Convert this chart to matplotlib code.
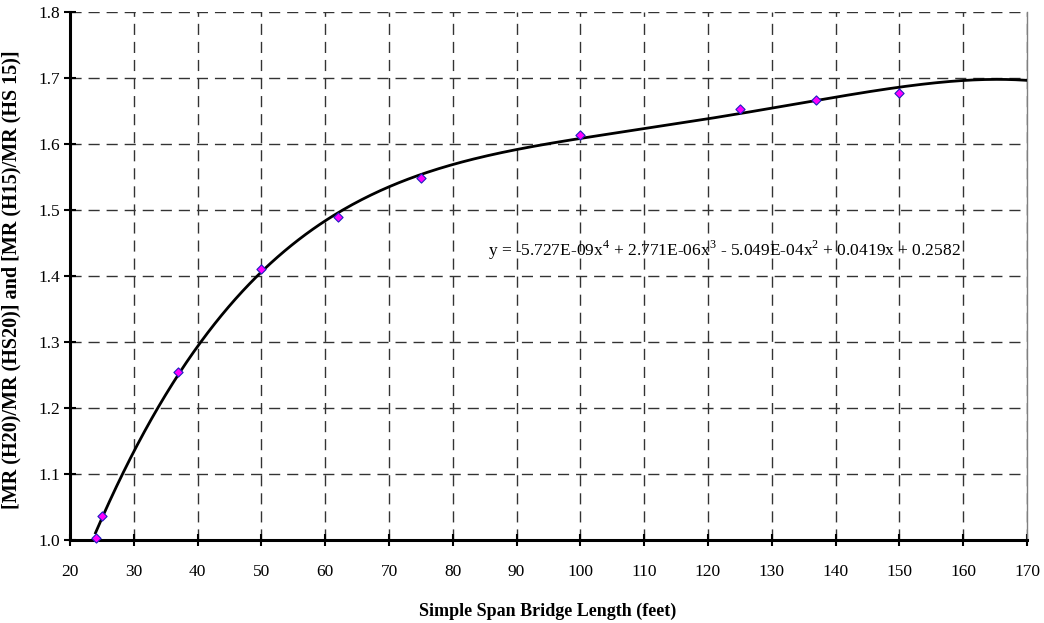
import numpy as np
import matplotlib.pyplot as plt

# span length (ft) vs. moment ratio
span_ft = [24, 25, 37, 50, 62, 75, 100, 125, 137, 150]
ratio = [1.003, 1.036, 1.255, 1.410, 1.490, 1.548, 1.614, 1.653, 1.667, 1.678]

# trendline values (extends to 170 ft)
trend_x = [24, 30, 40, 50, 62, 75, 80, 100, 110, 120, 130, 140, 150, 160, 170]
trend_y = [1.010, 1.134, 1.295, 1.406, 1.496, 1.554, 1.566, 1.609, 1.624,
           1.639, 1.655, 1.671, 1.685, 1.695, 1.6975]

x_ticks = list(range(20, 171, 10))
y_ticks = [1.0, 1.1, 1.2, 1.3, 1.4, 1.5, 1.6, 1.7, 1.8]
eq_label = (r"y = -5.727E-09x$^{4}$ + 2.771E-06x$^{3}$ - 5.049E-04x$^{2}$"
            r" + 0.0419x + 0.2582")

plt.rcParams['font.family'] = ['Liberation Serif', 'DejaVu Serif']
plt.rcParams['mathtext.fontset'] = 'custom'
plt.rcParams['mathtext.rm'] = 'Liberation Serif'

fig = plt.figure(figsize=(10.44, 6.23), dpi=100)
ax = fig.add_axes([70 / 1044, 1 - 540 / 623, 957 / 1044, 528 / 623])

# 4th order polynomial trendline
coef = np.polyfit(trend_x, trend_y, 4)
xs = np.linspace(trend_x[0], trend_x[-1], 400)
ax.plot(xs, np.polyval(coef, xs), color='black', lw=2, zorder=3)

ax.scatter(span_ft, ratio, marker='D', s=22, facecolor='#ff00ff',
           edgecolor='#2020c0', linewidths=0.8, zorder=4, clip_on=False)

ax.set_xlim(20, 170)
ax.set_ylim(1.0, 1.8)
ax.set_xticks(x_ticks)
ax.set_yticks(y_ticks)
ax.set_yticklabels([f"{v:.1f}" for v in y_ticks])
ax.grid(True, color='#333333', ls=(0, (8, 5)), lw=1)
ax.tick_params(direction='inout', length=8, width=1.5, labelsize=12.5)
ax.tick_params(axis='x', pad=13)
ax.tick_params(axis='y', pad=3)

for side in ('left', 'bottom'):
    ax.spines[side].set_linewidth(2.2)
ax.spines['top'].set_visible(False)
ax.spines['right'].set_color('#808080')
ax.spines['right'].set_linewidth(1)

ax.text(85.5, 1.439, eq_label, fontsize=12.5, va='center', ha='left')

fig.text(548 / 1044, 1 - 611 / 623, "Simple Span Bridge Length (feet)",
         fontsize=13, fontweight='bold', ha='center', va='center')
fig.text(11 / 1044, 1 - 280 / 623,
         "[MR (H20)/MR (HS20)] and [MR (H15)/MR (HS 15)]",
         fontsize=14.5, fontweight='bold', rotation=90, ha='center', va='center')

fig.savefig('out.png', dpi=100)
